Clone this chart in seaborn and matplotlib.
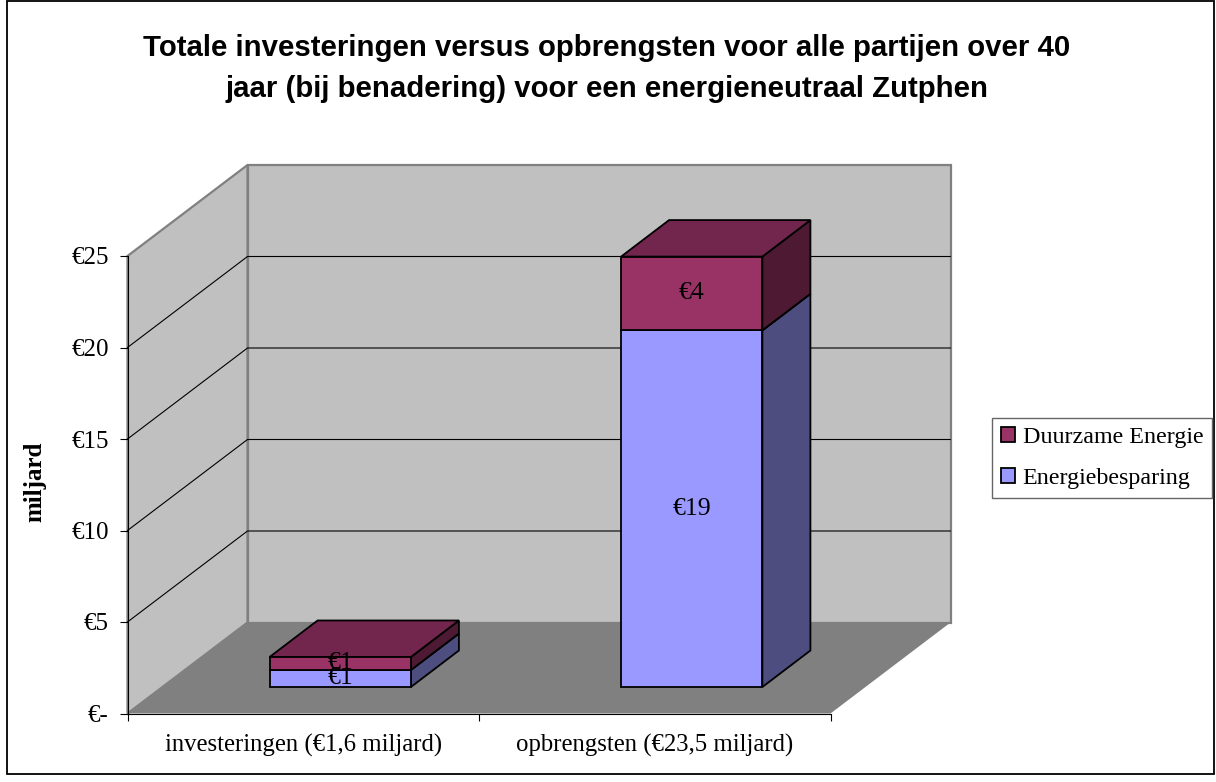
"""Stacked pseudo-3D column chart: investments versus returns for Zutphen."""

from __future__ import annotations

import matplotlib

matplotlib.use("Agg")

import matplotlib.pyplot as plt
import pandas as pd
import seaborn as sns
from matplotlib.patches import Patch, Polygon, Rectangle
from matplotlib.transforms import Affine2D, IdentityTransform


CATEGORIES = ["investeringen (€1,6 miljard)", "opbrengsten (€23,5 miljard)"]
BESPARING = [0.93, 19.49]
DUURZAAM = [0.71, 4.03]
Y_TICKS = [0, 5, 10, 15, 20, 25]
Y_LABELS = ["€-", "€5", "€10", "€15", "€20", "€25"]

TITLE = (
    "Totale investeringen versus opbrengsten voor alle partijen over 40\n"
    "jaar (bij benadering) voor een energieneutraal Zutphen"
)

WIDTH, HEIGHT = 1216, 782
WALL_DEPTH = (120, 91)
BAR_SHIFT = (37, 26.5)
BAR_DEPTH = (48, 36.5)

BLUE = ("#9999FF", "#4D4D80", "#73739F")
PURPLE = ("#993366", "#4D1933", "#73264D")
SERIF = "Liberation Serif"


def draw_walls(ax) -> None:
    """Draw floor, back wall, side wall and gridlines behind the bars."""
    dx, dy = WALL_DEPTH
    px = ax.transData.transform
    x0, x1 = -0.5, 1.5
    ymax = Y_TICKS[-1]

    def face(points, **kwargs):
        ax.add_patch(Polygon(points, closed=True, transform=IdentityTransform(),
                             clip_on=False, **kwargs))

    fl, fr = px((x0, 0)), px((x1, 0))
    tl = px((x0, ymax))
    floor = [fl, fr, fr + (dx, dy), fl + (dx, dy)]
    side = [fl, tl, tl + (dx, dy), fl + (dx, dy)]
    back = [fl + (dx, dy), tl + (dx, dy), px((x1, ymax)) + (dx, dy), fr + (dx, dy)]

    face(back, facecolor="#C0C0C0", edgecolor="#808080", linewidth=1.6, zorder=0.1)
    face(side, facecolor="#C0C0C0", edgecolor="#808080", linewidth=1.6, zorder=0.2)
    face(floor, facecolor="#808080", edgecolor="none", zorder=0.3)

    for tick in Y_TICKS[1:-1]:
        left, right = px((x0, tick)), px((x1, tick))
        ax.plot(
            [left[0], left[0] + dx, right[0] + dx],
            [left[1], left[1] + dy, right[1] + dy],
            color="black", linewidth=0.8, transform=IdentityTransform(),
            clip_on=False, zorder=0.5,
        )


def draw_bar_sides(ax, front, bar, colours, zorder) -> None:
    """Add the top and right faces of one bar segment."""
    dx, dy = BAR_DEPTH
    (x0, y0), (x1, y1) = front.transform(bar.get_bbox().get_points())
    right = [(x1, y0), (x1, y1), (x1 + dx, y1 + dy), (x1 + dx, y0 + dy)]
    top = [(x0, y1), (x1, y1), (x1 + dx, y1 + dy), (x0 + dx, y1 + dy)]
    for points, colour in ((right, colours[1]), (top, colours[2])):
        ax.add_patch(Polygon(points, closed=True, facecolor=colour, edgecolor="black",
                             linewidth=1.3, transform=IdentityTransform(),
                             clip_on=False, zorder=zorder))


def main() -> None:
    sns.set_theme(style="white")
    plt.rcParams["font.family"] = [SERIF, "DejaVu Serif"]
    plt.rcParams["text.color"] = "black"
    plt.rcParams["xtick.labelcolor"] = "black"
    plt.rcParams["ytick.labelcolor"] = "black"

    fig = plt.figure(figsize=(WIDTH / 100, HEIGHT / 100), dpi=100, facecolor="white")
    ax = fig.add_axes([127.5 / WIDTH, (HEIGHT - 713.5) / HEIGHT, 703 / WIDTH, 457.5 / HEIGHT])
    ax.patch.set_visible(False)

    df = pd.DataFrame({"categorie": CATEGORIES, "besparing": BESPARING, "duurzaam": DUURZAAM})
    sns.barplot(data=df, x="categorie", y="besparing", color=BLUE[0], saturation=1,
                width=0.402, edgecolor="black", linewidth=1.3, zorder=3, ax=ax)
    sns.barplot(data=df, x="categorie", y="duurzaam", bottom=df["besparing"].to_numpy(),
                color=PURPLE[0], saturation=1, width=0.402, edgecolor="black",
                linewidth=1.3, zorder=5, ax=ax)

    ax.set_xlim(-0.5, 1.5)
    ax.set_ylim(0, 25)
    draw_walls(ax)

    front = ax.transData + Affine2D().translate(*BAR_SHIFT)
    n = len(CATEGORIES)
    segments = list(ax.patches[:n]), list(ax.patches[n:2 * n])
    for bars, colours, zorder, values in zip(segments, (BLUE, PURPLE), (2.5, 4.5), (BESPARING, DUURZAAM)):
        for bar, value in zip(bars, values):
            bar.set_transform(front)
            bar.set_clip_on(False)
            draw_bar_sides(ax, front, bar, colours, zorder)
            ax.text(bar.get_x() + bar.get_width() / 2, bar.get_y() + bar.get_height() / 2,
                    f"€{value:.0f}", transform=front, ha="center", va="center",
                    fontsize=18.5, color="black", zorder=8)

    sns.despine(ax=ax)
    ax.spines[["left", "bottom"]].set_color("black")
    ax.spines[["left", "bottom"]].set_linewidth(0.8)
    ax.set_yticks(Y_TICKS, Y_LABELS, fontsize=18)
    ax.tick_params(axis="y", length=6, width=0.8, color="black", pad=7.5, left=True)
    ax.set_xticks(range(n), CATEGORIES, fontsize=17.8)
    ax.set_xticks([-0.5, 0.5, 1.5], minor=True)
    ax.tick_params(axis="x", which="major", length=0, pad=14.5)
    ax.tick_params(axis="x", which="minor", length=5, width=0.8, color="black", bottom=True)
    ax.set_xlabel("")
    ax.set_ylabel("")

    fig.text(35 / WIDTH, 1 - 482 / HEIGHT, "miljard", rotation=90, ha="center", va="center",
             fontsize=18, fontweight="bold")
    fig.text(607 / WIDTH, 1 - 68.5 / HEIGHT, TITLE, ha="center", va="center", fontsize=21.2,
             fontweight="bold", family="Liberation Sans", linespacing=1.55)

    handles = [Patch(facecolor=PURPLE[0], edgecolor="black", linewidth=1.3, label="Duurzame Energie"),
               Patch(facecolor=BLUE[0], edgecolor="black", linewidth=1.3, label="Energiebesparing")]
    legend = fig.legend(handles=handles, loc="center", bbox_to_anchor=(1102 / WIDTH, 1 - 458 / HEIGHT),
                        fontsize=17.3, frameon=True, fancybox=False, edgecolor="#666666",
                        framealpha=1, handlelength=0.6, handleheight=0.6, handletextpad=0.32,
                        labelspacing=0.82, borderpad=0.38, borderaxespad=0)
    legend.get_frame().set_linewidth(1)

    # outer chart border
    fig.add_artist(Rectangle((6.5 / WIDTH, 1 - 773.5 / HEIGHT), 1207 / WIDTH, 773 / HEIGHT,
                             transform=fig.transFigure, fill=False, edgecolor="black", linewidth=1.3))

    fig.savefig("out.png", dpi=100)


if __name__ == "__main__":
    main()
